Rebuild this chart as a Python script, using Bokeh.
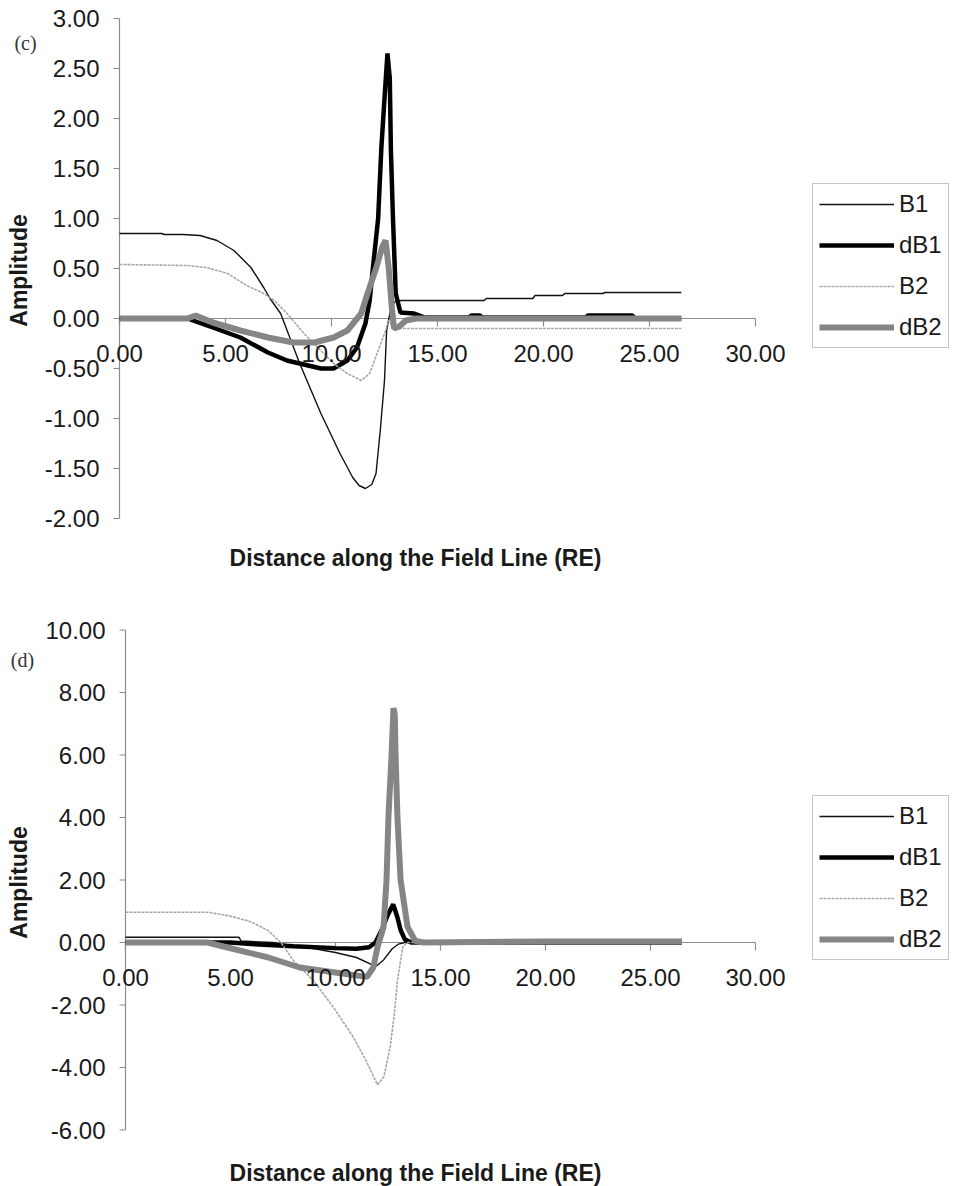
import math
from bokeh.plotting import figure
from bokeh.models import Range1d, Label, Legend, LegendItem
from bokeh.layouts import column
from bokeh.embed import file_html
from bokeh.resources import INLINE

# ---------------- data: panel (c) ----------------
c_B1_x = [0.0, 2.0, 2.1, 3.0, 3.8, 4.6, 5.4, 6.2, 6.8, 7.1, 7.6, 8.5, 9.5, 10.4, 11.0, 11.3, 11.6, 11.9, 12.1, 12.3,
          12.5, 12.6, 12.8, 13.0, 13.3, 17.2, 17.3, 19.5, 19.6, 20.9, 21.0, 22.8, 22.9, 26.5]
c_B1_y = [0.85, 0.85, 0.84, 0.84, 0.83, 0.78, 0.68, 0.51, 0.31, 0.20, 0.05, -0.45, -0.95, -1.35, -1.59, -1.67, -1.70,
          -1.66, -1.55, -1.12, -0.62, -0.12, 0.10, 0.17, 0.18, 0.18, 0.20, 0.20, 0.23, 0.23, 0.25, 0.25, 0.26, 0.26]

c_dB1_x = [0.0, 3.2, 4.4, 5.7, 7.0, 7.9, 8.9, 9.5, 10.1, 10.75, 11.2, 11.6, 11.8, 12.0, 12.2, 12.35, 12.5, 12.64,
           12.75, 12.8, 12.9, 13.03, 13.25, 13.9, 14.4, 16.5, 16.6, 17.0, 17.1, 22.0, 22.1, 24.2, 24.3, 26.5]
c_dB1_y = [0.0, 0.0, -0.09, -0.19, -0.34, -0.42, -0.47, -0.50, -0.50, -0.42, -0.29, -0.05, 0.18, 0.60, 1.00, 1.70,
           2.20, 2.65, 2.40, 1.70, 1.00, 0.25, 0.06, 0.05, 0.01, 0.01, 0.03, 0.03, 0.01, 0.01, 0.03, 0.03, 0.0, 0.0]

c_B2_x = [0.0, 3.2, 4.1, 5.1, 6.0, 6.8, 7.3, 7.9, 8.7, 9.5, 10.1, 10.75, 11.4, 11.8, 12.15, 12.5, 12.7, 12.95,
          18.8, 26.5]
c_B2_y = [0.54, 0.53, 0.51, 0.45, 0.33, 0.25, 0.18, 0.05, -0.15, -0.32, -0.45, -0.55, -0.62, -0.55, -0.35, -0.15,
          -0.02, -0.10, -0.10, -0.10]

c_dB2_x = [0.0, 3.2, 3.6, 4.4, 5.7, 7.0, 8.2, 9.2, 10.1, 10.75, 11.4, 11.7, 12.1, 12.4, 12.55, 12.7, 12.85, 12.95,
           13.2, 13.5, 14.0, 26.5]
c_dB2_y = [0.0, 0.0, 0.03, -0.04, -0.12, -0.19, -0.24, -0.24, -0.19, -0.12, 0.05, 0.25, 0.50, 0.72, 0.78, 0.50,
           0.10, -0.10, -0.08, -0.02, 0.0, 0.0]

c_y_ticks = [-2.0, -1.5, -1.0, -0.5, 0.0, 0.5, 1.0, 1.5, 2.0, 2.5, 3.0]
c_y_tick_labels = ["-2.00", "-1.50", "-1.00", "-0.50", "0.00", "0.50", "1.00", "1.50", "2.00", "2.50", "3.00"]

# ---------------- data: panel (d) ----------------
d_B1_x = [0.0, 5.4, 5.5, 7.0, 8.0, 9.0, 10.0, 11.0, 11.7, 11.95, 12.3, 12.7, 13.0, 13.3, 26.5]
d_B1_y = [0.17, 0.17, 0.05, 0.0, -0.10, -0.20, -0.32, -0.48, -0.70, -0.75, -0.55, -0.20, -0.05, 0.0, 0.0]

d_dB1_x = [0.0, 5.0, 6.0, 8.0, 10.0, 11.0, 11.6, 11.9, 12.2, 12.5, 12.75, 12.95, 13.1, 13.3, 13.6, 26.5]
d_dB1_y = [0.0, 0.0, -0.05, -0.12, -0.18, -0.20, -0.15, 0.0, 0.40, 0.90, 1.22, 0.80, 0.40, 0.10, 0.0, 0.0]

d_B2_x = [0.0, 3.9, 4.9, 5.8, 6.1, 6.8, 7.4, 8.0, 8.95, 9.9, 10.86, 11.5, 12.0, 12.3, 12.6, 12.8, 12.95, 13.2,
          13.4, 26.5]
d_B2_y = [0.97, 0.97, 0.86, 0.70, 0.62, 0.38, 0.0, -0.58, -1.22, -2.07, -3.04, -3.84, -4.55, -4.30, -3.36, -2.30,
          -1.22, -0.15, 0.0, 0.0]

d_dB2_x = [0.0, 3.9, 5.1, 6.8, 8.3, 9.9, 11.5, 11.8, 12.0, 12.29, 12.43, 12.52, 12.67, 12.76, 12.82, 12.86, 12.95,
           13.1, 13.43, 13.8, 14.2, 20.0, 26.5]
d_dB2_y = [0.0, 0.0, -0.20, -0.48, -0.80, -0.95, -1.10, -0.80, -0.15, 0.50, 2.00, 4.00, 6.00, 7.50, 7.30, 6.00,
           4.00, 2.00, 0.50, 0.05, 0.0, 0.03, 0.03]

d_y_ticks = [-6.0, -4.0, -2.0, 0.0, 2.0, 4.0, 6.0, 8.0, 10.0]
d_y_tick_labels = ["-6.00", "-4.00", "-2.00", "0.00", "2.00", "4.00", "6.00", "8.00", "10.00"]

x_ticks = [0.0, 5.0, 10.0, 15.0, 20.0, 25.0, 30.0]
x_tick_labels = ["0.00", "5.00", "10.00", "15.00", "20.00", "25.00", "30.00"]
series_names = ["B1", "dB1", "B2", "dB2"]

FONT = "Liberation Sans"
TXT = "#1a1a1a"
AXC = "#8c8c8c"
STYLES = {
    "B1": dict(line_color="#111111", line_width=1.4),
    "dB1": dict(line_color="#000000", line_width=4.5),
    "B2": dict(line_color="#a8a8a8", line_width=1.6, line_dash="3 1"),
    "dB2": dict(line_color="#858585", line_width=6),
}
W = 954


def panel(tag, data, y_ticks, y_labels, H, ox, oy, sx, sy, legend_loc, amp_y, title_y, tag_xy):
    # ox, oy: pixel position of the data origin inside this canvas; sx, sy: pixels per data unit
    p = figure(width=W, height=H, output_backend="svg", toolbar_location=None, title=None,
               x_axis_type=None, y_axis_type=None,
               min_border_left=0, min_border_right=0, min_border_top=0, min_border_bottom=0,
               x_range=Range1d(-ox / sx, (W - ox) / sx), y_range=Range1d((oy - H) / sy, oy / sy))
    p.outline_line_color = None
    p.background_fill_color = "white"
    p.border_fill_color = "white"

    # vertical axis
    p.segment(x0=[0], y0=[y_ticks[0]], x1=[0], y1=[y_ticks[-1]], line_color=AXC, line_width=1.2)
    p.segment(x0=[-6 / sx] * len(y_ticks), y0=y_ticks, x1=[0] * len(y_ticks), y1=y_ticks,
              line_color=AXC, line_width=1.2)
    for yv, s in zip(y_ticks, y_labels):
        p.add_layout(Label(x=0, y=yv, text=s, x_offset=-20, text_align="right", text_baseline="middle",
                           text_font=FONT, text_font_size="24px", text_color=TXT))

    # horizontal axis at y = 0
    p.segment(x0=[x_ticks[0]], y0=[0], x1=[x_ticks[-1]], y1=[0], line_color=AXC, line_width=1.2)
    p.segment(x0=x_ticks, y0=[0] * len(x_ticks), x1=x_ticks, y1=[-8 / sy] * len(x_ticks),
              line_color=AXC, line_width=1.2)
    for xv, s in zip(x_ticks, x_tick_labels):
        p.add_layout(Label(x=xv, y=0, text=s, y_offset=-35, text_align="center", text_baseline="middle",
                           text_font=FONT, text_font_size="24px", text_color=TXT))

    items = []
    for name in series_names:
        xs, ys = data[name]
        r = p.line(xs, ys, **STYLES[name])
        items.append(LegendItem(label=name, renderers=[r]))

    leg = Legend(items=items, location=legend_loc, label_text_font=FONT, label_text_font_size="24px",
                 label_text_color=TXT, glyph_width=75, glyph_height=26, label_height=26, label_standoff=5,
                 padding=6, spacing=13, margin=0, border_line_color="#8c8c8c", border_line_width=1,
                 background_fill_alpha=1.0)
    p.add_layout(leg)

    p.add_layout(Label(x=18, y=H - amp_y, x_units="screen", y_units="screen", text="Amplitude",
                       angle=math.pi / 2, text_align="center", text_baseline="middle",
                       text_font=FONT, text_font_style="bold", text_font_size="23px", text_color=TXT))
    p.add_layout(Label(x=415, y=H - title_y, x_units="screen", y_units="screen",
                       text="Distance along the Field Line (RE)", text_align="center", text_baseline="middle",
                       text_font=FONT, text_font_style="bold", text_font_size="23px", text_color=TXT))
    p.add_layout(Label(x=tag_xy[0], y=H - tag_xy[1], x_units="screen", y_units="screen", text=tag,
                       text_align="center", text_baseline="middle", text_font="Liberation Serif",
                       text_font_size="20px", text_color="#333333"))
    return p


H1, H2 = 592, 594
pc = panel("(c)", {"B1": (c_B1_x, c_B1_y), "dB1": (c_dB1_x, c_dB1_y), "B2": (c_B2_x, c_B2_y),
                   "dB2": (c_dB2_x, c_dB2_y)},
           c_y_ticks, c_y_tick_labels, H=H1, ox=119, oy=318, sx=21.2, sy=100.0,
           legend_loc=(812, H1 - 348), amp_y=270, title_y=557, tag_xy=(25, 42))

pd_ = panel("(d)", {"B1": (d_B1_x, d_B1_y), "dB1": (d_dB1_x, d_dB1_y), "B2": (d_B2_x, d_B2_y),
                    "dB2": (d_dB2_x, d_dB2_y)},
            d_y_ticks, d_y_tick_labels, H=H2, ox=125, oy=942 - H1, sx=21.0, sy=31.25,
            legend_loc=(812, H2 - (960 - H1)), amp_y=882 - H1, title_y=1172 - H1, tag_xy=(22, 659 - H1))

layout = column(pc, pd_, spacing=0)
open("out.html", "w").write(file_html(layout, INLINE))
